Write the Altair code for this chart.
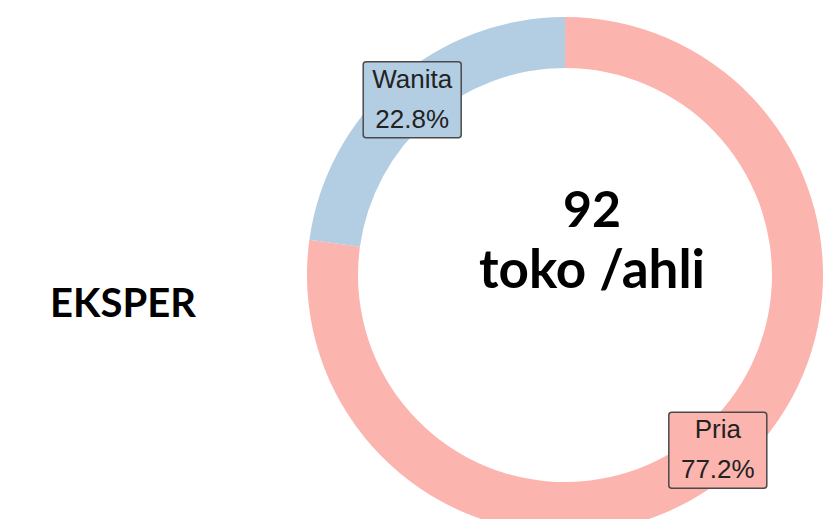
import altair as alt
import pandas as pd

# ---- data ----
categories = ["Pria", "Wanita"]
counts = [71, 21]
colors = ["#FBB4AE", "#B3CDE3"]
center_unit = ["toko /ahli"]
group_label = ["EKSPER"]

W, H = 818, 511
CX, CY = 557, 267
R_OUT, R_IN = 258, 207
R_MID = (R_OUT + R_IN) / 2

df = pd.DataFrame({"cat": categories, "count": counts, "ord": list(range(len(categories)))})

color = alt.Color("cat:N", scale=alt.Scale(domain=categories, range=colors), legend=None)

base = alt.Chart(df)

ring = base.mark_arc(outerRadius=R_OUT, innerRadius=R_IN, stroke=None).encode(
    theta=alt.Theta("count:Q", stack=True),
    color=color,
    order=alt.Order("ord:Q"),
    x=alt.value(CX),
    y=alt.value(CY),
)

lab = base.transform_joinaggregate(total="sum(count)").transform_window(
    cum="sum(count)", sort=[alt.SortField("ord")], frame=[None, 0]
).transform_calculate(
    mid=f"(datum.cum - datum.count/2)/datum.total*2*PI",
).transform_calculate(
    px=f"{CX} + {R_MID}*sin(datum.mid)",
    py=f"{CY} - {R_MID}*cos(datum.mid)",
    label="datum.cat + '\\n' + format(datum.count/datum.total, '.1%')",
).transform_calculate(
    bx1="datum.px - 49", bx2="datum.px + 49",
    by1="datum.py - 38", by2="datum.py + 38",
)

boxes = lab.mark_rect(cornerRadius=3, stroke="#4a4a4a", strokeWidth=1.5).encode(
    x=alt.X("bx1:Q", scale=None, axis=None),
    x2="bx2:Q",
    y=alt.Y("by1:Q", scale=None, axis=None),
    y2="by2:Q",
    color=color,
)

labels = lab.mark_text(
    lineBreak="\n", lineHeight=40, font="Liberation Sans", fontSize=26,
    color="#222222", align="center", baseline="middle", dy=-20,
).encode(
    x=alt.X("px:Q", scale=None, axis=None),
    y=alt.Y("py:Q", scale=None, axis=None),
    text="label:N",
)

total_text = base.transform_aggregate(total="sum(count)").mark_text(
    font="Lato", fontWeight="bold", fontSize=50, color="black",
    align="center", baseline="alphabetic",
).encode(x=alt.value(584), y=alt.value(219), text="total:Q")

unit_text = alt.Chart(pd.DataFrame({"t": center_unit})).mark_text(
    font="Lato", fontWeight="bold", fontSize=53, color="black",
    align="center", baseline="alphabetic",
).encode(x=alt.value(584), y=alt.value(280), text="t:N")

side_text = alt.Chart(pd.DataFrame({"t": group_label})).mark_text(
    font="Lato", fontWeight="bold", fontSize=40, color="black",
    align="center", baseline="alphabetic",
).encode(x=alt.value(115), y=alt.value(309), text="t:N")

chart = alt.layer(ring, boxes, labels, total_text, unit_text, side_text).properties(
    width=W, height=H, autosize=alt.AutoSizeParams(type="none"), padding=0,
).configure_view(stroke=None)

chart.save("out.html", embed_options={"renderer": "svg", "actions": False})
